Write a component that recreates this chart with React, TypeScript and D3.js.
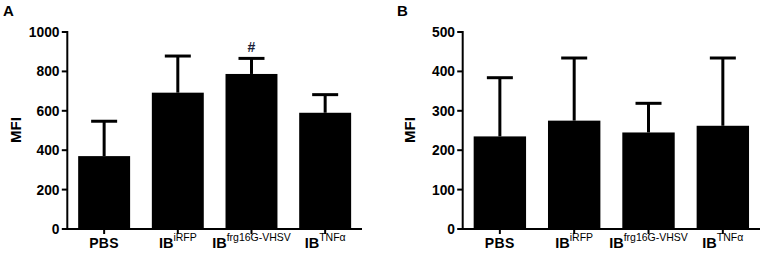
import React from "react";
import * as d3 from "d3";

const categories = ["PBS", "iRFP", "frg16G-VHSV", "TNFα"];
const meansA = [370, 692, 787, 590];
const sdA = [177, 186, 79, 92];
const meansB = [235, 275, 245, 262];
const sdB = [149, 159, 74, 172];
const ticksA = [0, 200, 400, 600, 800, 1000];
const ticksB = [0, 100, 200, 300, 400, 500];
const markA = ["", "", "#", ""];

const FONT = "Arial, 'Liberation Sans', sans-serif";

type PanelProps = {
  letter: string;
  ox: number;
  axisX: number;
  axisEnd: number;
  labelEnd: number;
  means: number[];
  sds: number[];
  ticks: number[];
  ymax: number;
  marks?: string[];
};

function Panel({ letter, ox, axisX, axisEnd, labelEnd, means, sds, ticks, ymax, marks }: PanelProps) {
  const y = d3.scaleLinear().domain([0, ymax]).range([229, 32]);
  const x = d3
    .scaleBand<string>()
    .domain(categories)
    .range([axisX, axisEnd])
    .paddingInner(0.295)
    .paddingOuter(0.1475);
  const bw = x.bandwidth();
  const capW = 26;
  return (
    <g>
      <text x={ox + 3} y={16} fontFamily={FONT} fontWeight="bold" fontSize={15}>
        {letter}
      </text>
      <text
        transform={`translate(${ox + 20.5},130) rotate(-90)`}
        textAnchor="middle"
        fontFamily={FONT}
        fontWeight="bold"
        fontSize={15}
      >
        MFI
      </text>
      {categories.map((c, i) => {
        const cx = (x(c) as number) + bw / 2;
        const top = y(means[i]);
        const err = y(means[i] + sds[i]);
        return (
          <g key={c}>
            <line x1={cx} x2={cx} y1={top} y2={err} stroke="#000" strokeWidth={3} />
            <line x1={cx - capW / 2} x2={cx + capW / 2} y1={err} y2={err} stroke="#000" strokeWidth={3} />
            <rect x={x(c)} y={top} width={bw} height={229 - top} fill="#000" />
            {marks && marks[i] ? (
              <text x={cx} y={52} textAnchor="middle" fontFamily={FONT} fontWeight="bold" fontSize={14} fill="#1a1f3a">
                {marks[i]}
              </text>
            ) : null}
            <line x1={cx} x2={cx} y1={229} y2={234} stroke="#000" strokeWidth={2} />
            {c === "PBS" ? (
              <text x={cx} y={248} textAnchor="middle" fontFamily={FONT} fontWeight="bold" fontSize={14} letterSpacing={0.4}>
                PBS
              </text>
            ) : (
              <text x={cx} y={248} textAnchor="middle" fontFamily={FONT}>
                <tspan fontWeight="bold" fontSize={14.5}>IB</tspan>
                <tspan fontSize={10.5} dy={-7.5}>{c}</tspan>
              </text>
            )}
          </g>
        );
      })}
      {ticks.map((t) => (
        <g key={t}>
          <line x1={axisX - 5.5} x2={axisX} y1={y(t)} y2={y(t)} stroke="#000" strokeWidth={2} />
          <text
            x={labelEnd}
            y={y(t)}
            dy="0.36em"
            textAnchor="end"
            fontFamily={FONT}
            fontWeight="bold"
            fontSize={13.8}
          >
            {t}
          </text>
        </g>
      ))}
      <line x1={axisX} x2={axisX} y1={31} y2={230} stroke="#000" strokeWidth={2} />
      <line x1={axisX - 1} x2={axisEnd} y1={229} y2={229} stroke="#000" strokeWidth={2} />
    </g>
  );
}

export default function App() {
  return (
    <svg
      width={764}
      height={254}
      viewBox="0 0 764 254"
      style={{ position: "absolute", left: 0, top: 0, background: "#fff" }}
    >
      <rect width={764} height={254} fill="#fff" />
      <Panel
        letter="A"
        ox={0}
        axisX={67.3}
        axisEnd={362}
        labelEnd={59.5}
        means={meansA}
        sds={sdA}
        ticks={ticksA}
        ymax={1000}
        marks={markA}
      />
      <Panel
        letter="B"
        ox={394}
        axisX={462.7}
        axisEnd={760}
        labelEnd={455}
        means={meansB}
        sds={sdB}
        ticks={ticksB}
        ymax={500}
      />
    </svg>
  );
}
